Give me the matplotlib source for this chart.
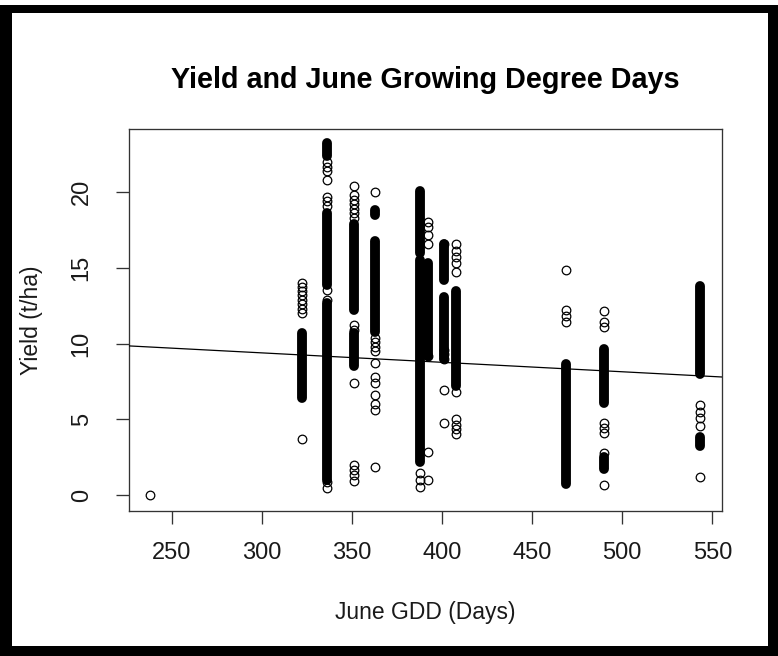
#!/usr/bin/env python3
"""
Yield vs June growing degree days scatter, with a fitted trend line.
"""

import matplotlib

matplotlib.use("Agg")
import matplotlib.pyplot as plt
from matplotlib.patches import Rectangle

# June GDD of each site-year, and the yields recorded there (t/ha).
# Single observations are listed point by point; stretches where the
# observations sit on top of each other are kept as (low, high) runs.
gdd_values = [238, 322, 336, 351, 363, 388, 392, 401, 408, 469, 490, 543]

yield_238 = [0.0]
yield_322 = [14.0, 13.75, 13.5, 13.2, 12.9, 12.6, 12.3, 12.0, 3.7]
yield_336 = [22.0, 21.7, 21.4, 20.8, 19.7, 19.4, 19.1, 13.55, 12.9, 0.85, 0.45]
yield_351 = [20.4, 19.8, 19.5, 19.2, 18.9, 18.6, 18.3, 11.2, 10.9, 7.4,
             1.95, 1.65, 1.3, 0.95]
yield_363 = [20.0, 10.4, 10.1, 9.8, 9.5, 8.7, 7.8, 7.4, 6.6, 6.0, 5.6, 1.85]
yield_388 = [1.45, 1.0, 0.55]
yield_392 = [18.05, 17.7, 17.2, 16.6, 9.15, 2.86, 1.0]
yield_401 = [16.6, 9.6, 9.3, 9.0, 6.94, 4.76]
yield_408 = [16.6, 16.1, 15.7, 15.35, 14.7, 6.83, 5.0, 4.6, 4.35, 4.0]
yield_469 = [14.85, 12.2, 11.83, 11.46]
yield_490 = [12.18, 11.45, 11.12, 4.74, 4.4, 4.08, 2.75, 0.66]
yield_543 = [5.95, 5.5, 5.07, 4.58, 1.21]

runs_238 = []
runs_322 = [(6.4, 10.7)]
runs_336 = [(22.4, 23.24), (13.9, 18.6), (1.0, 12.7)]
runs_351 = [(12.2, 17.9), (8.5, 10.7)]
runs_363 = [(18.5, 18.8), (10.8, 16.8)]
runs_388 = [(16.0, 20.1), (2.2, 15.5)]
runs_392 = [(9.2, 15.3)]
runs_401 = [(14.2, 16.6), (9.0, 13.1)]
runs_408 = [(7.2, 13.5)]
runs_469 = [(0.73, 8.66)]
runs_490 = [(6.1, 9.65), (1.72, 2.48)]
runs_543 = [(7.98, 13.83), (3.25, 3.8)]

# least-squares fit of yield on June GDD
fit_intercept = 11.26
fit_slope = -0.00624

x_ticks = [250, 300, 350, 400, 450, 500, 550]
y_ticks = [0, 5, 10, 15, 20]

FIG_W, FIG_H = 778, 656
MARKER_SIZE = 6.2
MARKER_EDGE = 0.9
INK = "#1a1a1a"


def px_box(x0, y0, x1, y1):
    """Rectangle given in pixel coords (origin top-left) -> figure fractions."""
    return (x0 / FIG_W, 1 - y1 / FIG_H, (x1 - x0) / FIG_W, (y1 - y0) / FIG_H)


def draw_frame(fig):
    """Heavy black frame round the whole figure."""
    for x0, y0, x1, y1 in [(0, 5, 778, 13), (0, 5, 12, 656),
                           (768, 5, 778, 656), (0, 646, 778, 656)]:
        l, b, w, h = px_box(x0, y0, x1, y1)
        fig.add_artist(Rectangle((l, b), w, h, transform=fig.transFigure,
                                 facecolor="black", edgecolor="none"))


def main():
    plt.rcParams["font.family"] = ["Liberation Sans", "DejaVu Sans"]

    fig = plt.figure(figsize=(FIG_W / 100, FIG_H / 100), dpi=100)
    ax = fig.add_axes([129.3 / FIG_W, 1 - 510.7 / FIG_H,
                       592.4 / FIG_W, 381.7 / FIG_H])

    columns = [
        (238, yield_238, runs_238), (322, yield_322, runs_322),
        (336, yield_336, runs_336), (351, yield_351, runs_351),
        (363, yield_363, runs_363), (388, yield_388, runs_388),
        (392, yield_392, runs_392), (401, yield_401, runs_401),
        (408, yield_408, runs_408), (469, yield_469, runs_469),
        (490, yield_490, runs_490), (543, yield_543, runs_543),
    ]

    run_width = MARKER_SIZE + MARKER_EDGE
    for gdd, ys, runs in columns:
        for lo, hi in runs:
            ax.plot([gdd, gdd], [lo, hi], color="black", lw=run_width,
                    solid_capstyle="round", zorder=2)
        ax.plot([gdd] * len(ys), ys, linestyle="none", marker="o",
                markersize=MARKER_SIZE, markerfacecolor="none",
                markeredgecolor="black", markeredgewidth=MARKER_EDGE, zorder=3)

    ax.axline((0, fit_intercept), slope=fit_slope, color="black", lw=0.9,
              zorder=4)

    ax.set_xlim(226.4, 555.2)
    ax.set_ylim(-1.04, 24.18)
    ax.set_xticks(x_ticks)
    ax.set_yticks(y_ticks)
    ax.set_xticklabels([str(v) for v in x_ticks], fontsize=17, color=INK)
    ax.set_yticklabels([str(v) for v in y_ticks], fontsize=17, color=INK,
                       rotation=90, va="center")
    ax.tick_params(axis="both", length=9.4, width=0.95, color="#333333")
    ax.tick_params(axis="x", pad=13)
    ax.tick_params(axis="y", pad=17)
    for spine in ax.spines.values():
        spine.set_linewidth(0.95)
        spine.set_color("#333333")

    ax.set_xlabel("June GDD (Days)", fontsize=16.5, color=INK, va="center")
    ax.xaxis.set_label_coords(0.5, (510.7 - 613) / 381.7)
    ax.set_ylabel("Yield (t/ha)", fontsize=16.5, color=INK, va="center")
    ax.yaxis.set_label_coords((32 - 129.3) / 592.4, 0.5)

    fig.text(425.5 / FIG_W, 1 - 80 / FIG_H,
             "Yield and June Growing Degree Days", ha="center", va="center",
             fontsize=20.7, fontweight="bold", color="black")

    draw_frame(fig)
    fig.savefig("out.png", dpi=100)
    plt.close(fig)


if __name__ == "__main__":
    main()
